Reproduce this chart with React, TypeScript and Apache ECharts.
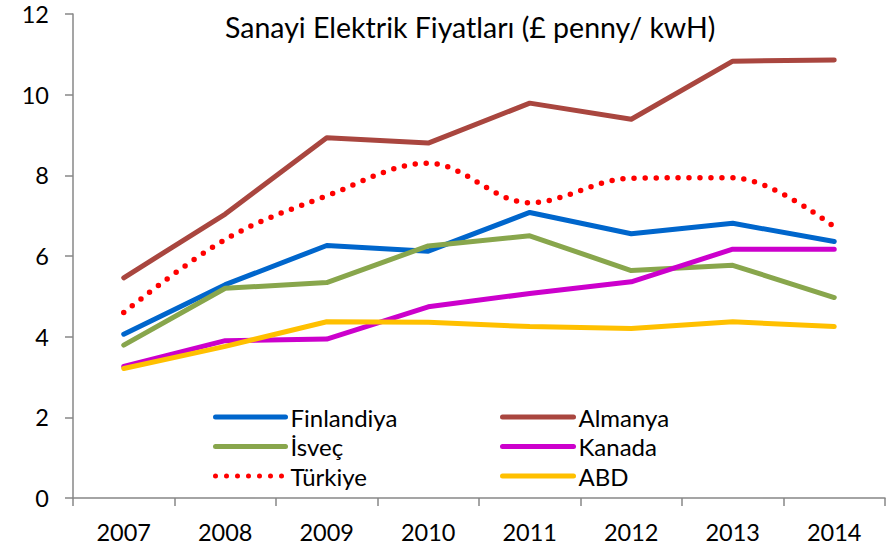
import React, { useEffect, useRef } from "react";
import * as echarts from "echarts";

const years = ["2007", "2008", "2009", "2010", "2011", "2012", "2013", "2014"];
const yTicks = [0, 2, 4, 6, 8, 10, 12];
const finlandiya = [4.06, 5.29, 6.26, 6.12, 7.08, 6.55, 6.81, 6.36];
const almanya = [5.46, 7.04, 8.93, 8.8, 9.79, 9.39, 10.83, 10.86];
const isvec = [3.79, 5.2, 5.34, 6.25, 6.5, 5.64, 5.77, 4.97];
const kanada = [3.26, 3.9, 3.94, 4.74, 5.07, 5.36, 6.17, 6.17];
const turkiye = [4.6, 6.41, 7.49, 8.3, 7.32, 7.93, 7.94, 6.72];
const abd = [3.21, 3.76, 4.37, 4.36, 4.25, 4.2, 4.37, 4.25];

const FONT = "Lato";

export default function App() {
  const ref = useRef<HTMLDivElement>(null);
  useEffect(() => {
    if (!ref.current) return;
    const chart = echarts.init(ref.current, undefined, { renderer: "svg" });
    const solid = (name: string, data: number[], color: string) => ({
      name,
      type: "line",
      data,
      symbol: "none",
      showSymbol: false,
      lineStyle: { color, width: 5, cap: "round", join: "round" },
      itemStyle: { color },
    });
    const legendBase = {
      orient: "vertical",
      top: 405,
      itemWidth: 70,
      itemHeight: 20,
      itemGap: 5.5,
      padding: 0,
      selectedMode: false,
      itemStyle: { opacity: 0 },
      lineStyle: { width: 5, cap: "round" },
      textStyle: { fontFamily: FONT, fontSize: 24, color: "#000", lineHeight: 21 },
    };
    chart.setOption({
      animation: false,
      backgroundColor: "#ffffff",
      textStyle: { fontFamily: FONT },
      title: {
        text: "Sanayi Elektrik Fiyatları (£ penny/ kwH)",
        left: 225,
        top: 12,
        padding: 0,
        textStyle: { fontFamily: FONT, fontSize: 28.5, fontWeight: "normal", color: "#000" },
      },
      grid: { left: 73, right: 3, top: 14, bottom: 52, containLabel: false },
      legend: [
        { ...legendBase, data: ["Finlandiya", "İsveç", "Türkiye"], left: 213 },
        { ...legendBase, data: ["Almanya", "Kanada", "ABD"], left: 500, itemWidth: 71 },
      ],
      xAxis: {
        type: "category",
        data: years,
        boundaryGap: true,
        axisLine: { lineStyle: { color: "#878787", width: 1.5 } },
        axisTick: { show: true, length: 8, lineStyle: { color: "#878787", width: 1.5 } },
        axisLabel: { fontFamily: FONT, fontSize: 23.5, color: "#000", margin: 22 },
        splitLine: { show: false },
      },
      yAxis: {
        type: "value",
        min: yTicks[0],
        max: yTicks[yTicks.length - 1],
        interval: 2,
        axisLine: { show: true, lineStyle: { color: "#878787", width: 1.5 } },
        axisTick: { show: true, length: 8, lineStyle: { color: "#878787", width: 1.5 } },
        axisLabel: { fontFamily: FONT, fontSize: 23.5, color: "#000", margin: 24 },
        splitLine: { show: false },
      },
      series: [
        solid("Finlandiya", finlandiya, "#0066CC"),
        solid("Almanya", almanya, "#A9463F"),
        solid("İsveç", isvec, "#88A64C"),
        solid("Kanada", kanada, "#CC00CC"),
        {
          name: "Türkiye",
          type: "line",
          data: turkiye,
          symbol: "none",
          showSymbol: false,
          smooth: 0.35,
          lineStyle: { color: "#FF0000", width: 5.5, type: [0, 11], cap: "round" },
          itemStyle: { color: "#FF0000" },
        },
        solid("ABD", abd, "#FFC000"),
      ],
    });
    return () => chart.dispose();
  }, []);
  return <div ref={ref} style={{ width: 888, height: 550, position: "absolute", left: 0, top: 0 }} />;
}
